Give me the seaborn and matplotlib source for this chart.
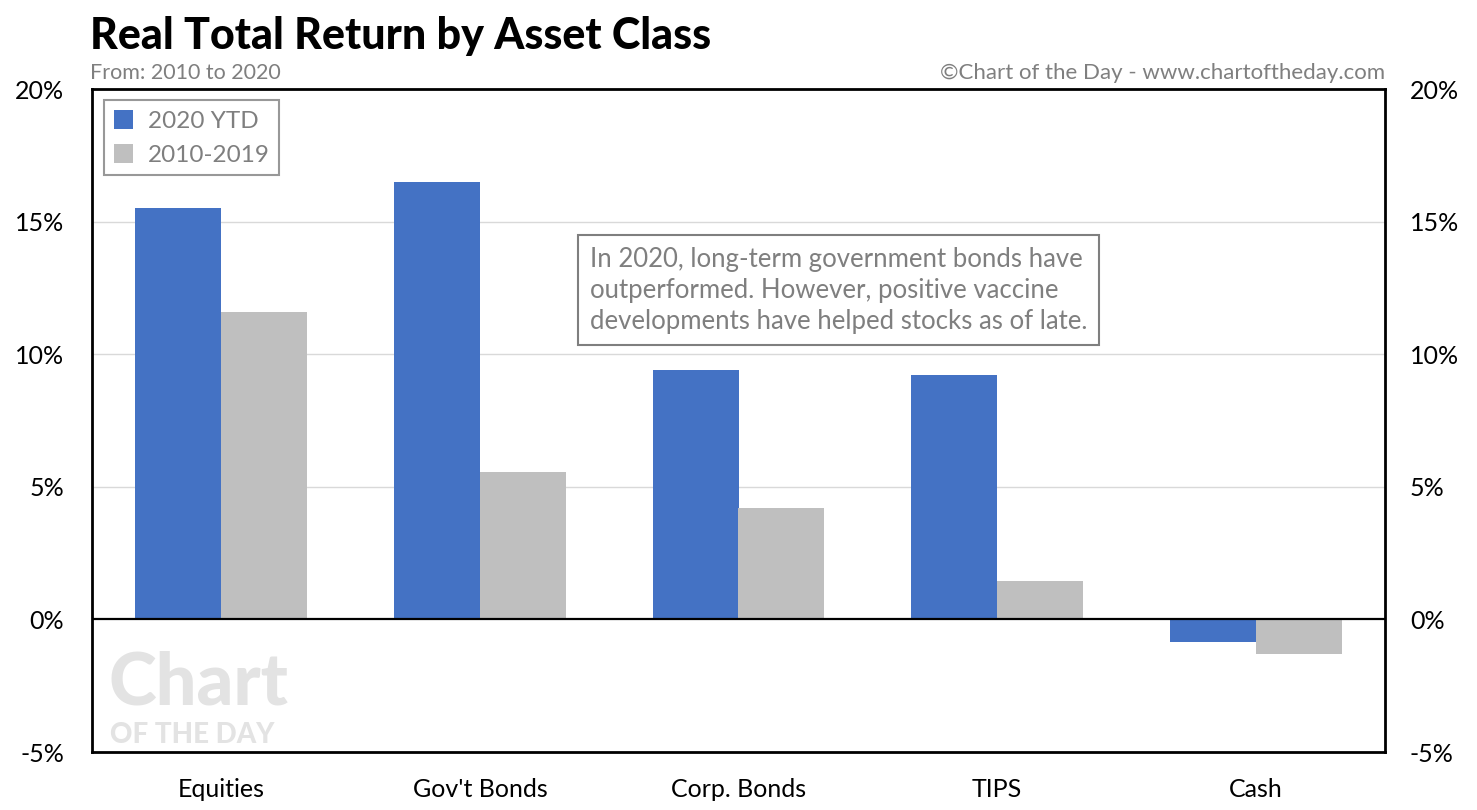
import matplotlib
matplotlib.use("Agg")
import matplotlib.pyplot as plt
import seaborn as sns
import pandas as pd
from matplotlib.ticker import FuncFormatter

categories = ["Equities", "Gov't Bonds", "Corp. Bonds", "TIPS", "Cash"]
ytd_2020 = [15.5, 16.5, 9.4, 9.2, -0.85]
dec_2010_2019 = [11.6, 5.55, 4.2, 1.45, -1.3]
series_names = ["2020 YTD", "2010-2019"]
yticks = [-5, 0, 5, 10, 15, 20]

df = pd.DataFrame({
    "category": categories * 2,
    "value": ytd_2020 + dec_2010_2019,
    "series": [series_names[0]] * len(categories) + [series_names[1]] * len(categories),
})

sns.set_theme(style="white")
plt.rcParams["font.family"] = ["Lato", "DejaVu Sans"]

fig = plt.figure(figsize=(14.77, 8.10), dpi=100)
ax = fig.add_axes([0.0623, 0.0716, 0.8754, 0.8184])

palette = {series_names[0]: "#4472C4", series_names[1]: "#BFBFBF"}
sns.barplot(data=df, x="category", y="value", hue="series", palette=palette,
            width=0.665, saturation=1, ax=ax, edgecolor="none", linewidth=0, zorder=3)

ax.set_ylim(-5, 20)
ax.set_xlim(-0.5, len(categories) - 0.5)
ax.set_yticks(yticks)
fmt = FuncFormatter(lambda v, p: f"{v:.0f}%")
ax.yaxis.set_major_formatter(fmt)
for v in [5, 10, 15]:
    ax.axhline(v, color="#D9D9D9", lw=1, zorder=1)
ax.axhline(0, color="black", lw=1.6, zorder=4)
ax.set_xlabel("")
ax.set_ylabel("")
for s in ax.spines.values():
    s.set_color("black")
    s.set_linewidth(2)
    s.set_visible(True)
ax.tick_params(axis="both", length=0, labelsize=18, colors="black")
ax.tick_params(axis="y", pad=20)
ax.tick_params(axis="x", pad=19)

ax2 = ax.twinx()
ax2.set_ylim(ax.get_ylim())
ax2.set_yticks(yticks)
ax2.yaxis.set_major_formatter(fmt)
ax2.tick_params(axis="y", length=0, labelsize=18, colors="black", pad=18)
for s in ax2.spines.values():
    s.set_visible(False)

leg = ax.legend(loc="upper left", bbox_to_anchor=(0.0093, 0.983), borderaxespad=0,
                frameon=True, fontsize=17.5, labelcolor="#7F7F7F", fancybox=False,
                handlelength=0.8, handleheight=0.8, handletextpad=0.6,
                borderpad=0.4, labelspacing=0.5)
leg.get_frame().set_edgecolor("#7F7F7F")
leg.get_frame().set_linewidth(1.5)
leg.set_zorder(6)

ax.text(0.385, 0.762,
        "In 2020, long-term government bonds have\noutperformed. However, positive vaccine\ndevelopments have helped stocks as of late.",
        transform=ax.transAxes, fontsize=18.5, color="#7F7F7F", va="top", ha="left",
        linespacing=1.3, zorder=6,
        bbox=dict(boxstyle="square,pad=0.45", fc="white", ec="#7F7F7F", lw=1.5))

ax.text(0.013, 0.072, "Chart", transform=ax.transAxes, fontsize=52, fontweight="black",
        color="#E3E3E3", ha="left", va="baseline", zorder=2)
ax.text(0.014, 0.014, "OF THE DAY", transform=ax.transAxes, fontsize=20, fontweight="black",
        color="#E3E3E3", ha="left", va="baseline", zorder=2)

fig.text(0.061, 0.94, "Real Total Return by Asset Class", fontsize=31, fontweight="black",
         color="black", ha="left", va="baseline")
fig.text(0.061, 0.903, "From: 2010 to 2020", fontsize=15.5, color="#7F7F7F",
         ha="left", va="baseline")
fig.text(0.9377, 0.903, "\u00a9Chart of the Day - www.chartoftheday.com", fontsize=16,
         color="#7F7F7F", ha="right", va="baseline")

fig.savefig("out.png", dpi=100, facecolor="white")
